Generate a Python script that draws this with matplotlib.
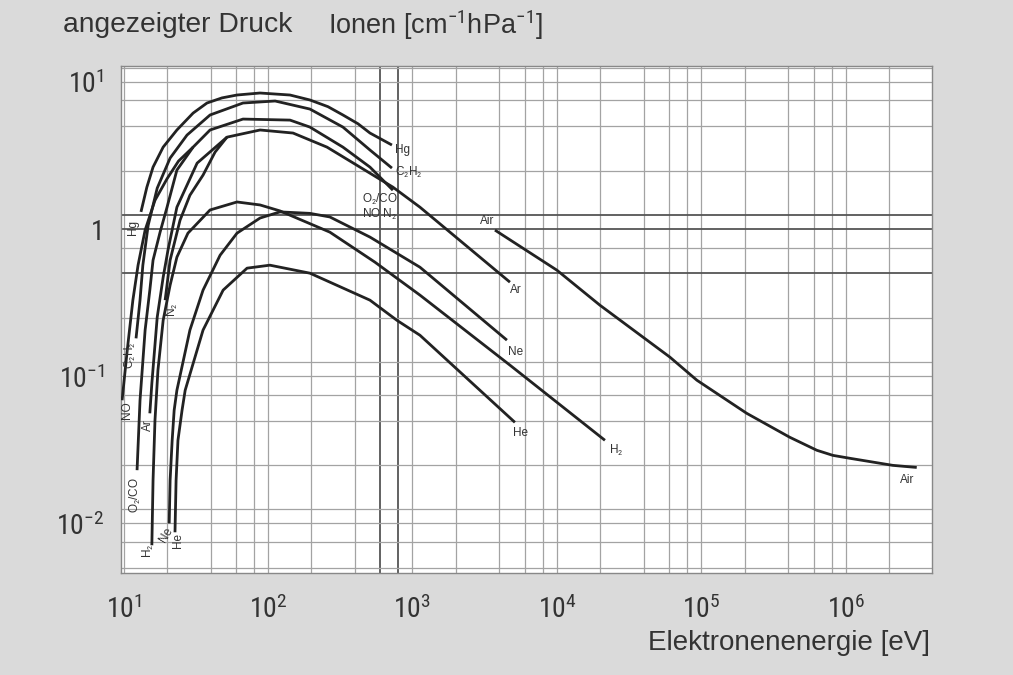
import matplotlib
matplotlib.use("Agg")
import matplotlib.pyplot as plt
from matplotlib import font_manager

# ---------------- data (electron energy [eV], ions [cm^-1 hPa^-1]) ----------------
hg_e = [13.2, 14.5, 16.0, 18.8, 23.4, 30.3, 37.8, 48.0, 61, 88, 142, 195, 260, 330, 420, 508, 721]
hg_s = [1.31, 1.93, 2.64, 3.61, 4.72, 6.15, 7.2, 7.8, 8.16, 8.42, 8.16, 7.55, 6.8, 5.97, 5.2, 4.50, 3.73]

c2h2_e = [12.2, 13.0, 13.6, 14.8, 17.1, 21.0, 27.5, 39.7, 67.1, 112, 195, 330, 508, 721]
c2h2_s = [0.181, 0.329, 0.569, 1.06, 1.90, 3.04, 4.36, 5.97, 7.2, 7.43, 6.55, 4.94, 3.45, 2.60]

o2co_e = [12.4, 13.0, 14.1, 15.2, 16.0, 17.9, 20.0, 23.4, 30.3, 39.7, 67.1, 142, 195, 330, 508, 732]
o2co_s = [0.023, 0.0687, 0.206, 0.385, 0.615, 0.954, 1.41, 2.52, 3.61, 4.72, 5.6, 5.51, 4.94, 3.61, 2.64, 1.84]

no_e = [9.77, 10.6, 11.6, 12.6, 14.1, 16.5, 20.0, 24.0, 30.3]
no_s = [0.0687, 0.150, 0.329, 0.569, 0.985, 1.57, 2.2, 2.9, 3.61]

ar_e = [15.2, 15.7, 17.1, 18.8, 20.3, 23.4, 32.3, 52, 88.1, 149, 256, 433, 732, 1127, 4730]
ar_s = [0.056, 0.0896, 0.252, 0.471, 0.72, 1.41, 2.81, 4.22, 4.72, 4.50, 3.61, 2.64, 1.93, 1.41, 0.436]

n2_e = [19.4, 21.0, 24.6, 28.8, 35.5, 43.0, 52.0]
n2_s = [0.329, 0.615, 1.15, 1.70, 2.33, 3.34, 4.22]

h2_e = [15.7, 16.0, 16.5, 17.3, 18.8, 21.0, 23.4, 27.9, 39.7, 61, 88.1, 121, 268, 549, 1127, 4730, 21500]
h2_s = [0.0071, 0.0196, 0.0502, 0.110, 0.240, 0.416, 0.645, 0.939, 1.35, 1.53, 1.46, 1.33, 0.954, 0.597, 0.356, 0.119, 0.0367]

ne_e = [20.7, 21.0, 21.7, 22.4, 23.4, 28.8, 35.5, 46.6, 61, 88.1, 121, 195, 268, 508, 1127, 4508]
ne_s = [0.01, 0.0196, 0.0367, 0.0587, 0.0803, 0.206, 0.385, 0.665, 0.939, 1.19, 1.31, 1.28, 1.21, 0.883, 0.551, 0.176]

he_e = [22.7, 23.1, 23.8, 25.4, 26.7, 35.5, 48.9, 71.6, 103, 195, 508, 781, 1127, 5120]
he_s = [0.0087, 0.0196, 0.0367, 0.0587, 0.0803, 0.206, 0.385, 0.543, 0.569, 0.502, 0.329, 0.240, 0.190, 0.0486]

air_e = [3724, 10000, 19860, 60500, 93100, 206000, 409000, 630000, 813000, 1066000, 2113000, 3097000]
air_s = [0.985, 0.526, 0.304, 0.135, 0.094, 0.056, 0.0385, 0.0314, 0.029, 0.0277, 0.0248, 0.024]

series = [(hg_e, hg_s), (c2h2_e, c2h2_s), (o2co_e, o2co_s), (no_e, no_s), (ar_e, ar_s),
          (n2_e, n2_s), (h2_e, h2_s), (ne_e, ne_s), (he_e, he_s), (air_e, air_s)]

# curve labels: (text, energy, value, rotation)
end_labels = [("Hg", 757, 3.45, 0), ("C$_2$H$_2$", 757, 2.44, 0), ("O$_2$/CO", 448, 1.60, 0),
              ("NO N$_2$", 448, 1.26, 0), ("Air", 2930, 1.13, 0), ("Ar", 4730, 0.385, 0),
              ("Ne", 4600, 0.146, 0), ("He", 5000, 0.041, 0), ("H$_2$", 22900, 0.0314, 0),
              ("Air", 2.37e6, 0.0196, 0)]
start_labels = [("Hg", 11.6, 1.02, 90), ("C$_2$H$_2$", 11.1, 0.139, 90), ("NO", 10.6, 0.0587, 90),
                ("Ar", 14.8, 0.0464, 90), ("O$_2$/CO", 12.0, 0.0155, 90), ("N$_2$", 21.7, 0.281, 90),
                ("H$_2$", 14.8, 0.00655, 90), ("Ne", 19.7, 0.0083, 60), ("He", 23.8, 0.0077, 90)]

x_ticks = [1e1, 1e2, 1e3, 1e4, 1e5, 1e6]
x_ticklabels = ["$10^{1}$", "$10^{2}$", "$10^{3}$", "$10^{4}$", "$10^{5}$", "$10^{6}$"]
y_ticks = [1e-2, 1e-1, 1, 1e1]
y_ticklabels = ["$10^{-2}$", "$10^{-1}$", "1", "$10^{1}$"]

# ---------------- fonts ----------------
ttf = font_manager.fontManager.ttflist
avail = {f.name for f in ttf}
narrow = None
stretch = "normal"
for nm in ("Liberation Sans Narrow", "Roboto Condensed", "Open Sans Condensed", "Noto Sans Condensed"):
    if nm in avail:
        narrow = nm
        break
if narrow is None:
    for f in ttf:
        if f.name in ("Roboto", "Noto Sans", "Open Sans", "Inter") and f.stretch in ("condensed", "semi-condensed", 75, 87.5) \
                and f.style == "normal" and f.weight in (400, "normal", "regular"):
            narrow = f.name
            stretch = "condensed"
            break
if narrow is None:
    narrow = "Liberation Sans"
plt.rcParams["font.family"] = [narrow, "DejaVu Sans"]
plt.rcParams["font.stretch"] = stretch
plt.rcParams["mathtext.fontset"] = "custom"
plt.rcParams["mathtext.rm"] = narrow
plt.rcParams["mathtext.it"] = narrow
plt.rcParams["mathtext.bf"] = narrow

BG = "#dadada"
TXT = "#333333"
fig = plt.figure(figsize=(10.13, 6.75), dpi=100, facecolor=BG)
ax = fig.add_axes([121 / 1013, 1 - 573 / 675, (932 - 121) / 1013, (573 - 66) / 675])
ax.set_facecolor("white")
ax.set_xscale("log")
ax.set_yscale("log")
ax.set_xlim(9.6, 3.95e6)
ax.set_ylim(0.0046, 12.85)

# grid
gcol = "#a3a3a3"
for k in range(1, 7):
    for m in (1, 2, 4, 6, 8):
        v = m * 10 ** k
        dark = v in (600, 800)
        ax.axvline(v, color="#555555" if dark else gcol, lw=1.3 if dark else 0.9, zorder=1)
for k in range(-3, 2):
    for m in (1, 1.25, 2.5, 5, 7.5):
        v = m * 10.0 ** k
        dark = abs(v - 1.25) < 1e-9 or abs(v - 1) < 1e-9 or abs(v - 0.5) < 1e-9
        ax.axhline(v, color="#555555" if dark else gcol, lw=1.3 if dark else 0.9, zorder=1)

for e, s in series:
    ax.plot(e, s, color="#222222", lw=2.0, solid_capstyle="butt", solid_joinstyle="round", zorder=3)

lab_family = ["Liberation Sans", "DejaVu Sans"]
for t, x, y, r in end_labels:
    ax.text(x, y, t, fontsize=8.5, color=TXT, ha="left", va="center", rotation=r, zorder=4,
            family=lab_family, stretch="normal")
for t, x, y, r in start_labels:
    ax.text(x, y, t, fontsize=8.5, color=TXT, ha="center", va="center", rotation=r, zorder=4,
            family=lab_family, stretch="normal")

ax.set_xticks(x_ticks)
ax.set_xticklabels(x_ticklabels)
ax.set_yticks(y_ticks)
ax.set_yticklabels(y_ticklabels)
ax.minorticks_off()
ax.tick_params(length=0, labelsize=20, colors=TXT)
ax.tick_params(axis="x", pad=16)
ax.tick_params(axis="y", pad=12)
for sp in ax.spines.values():
    sp.set_color("#888888")
    sp.set_linewidth(1.0)

fig.text(930 / 1013, 1 - 643 / 675, "Elektronenenergie [eV]", ha="right", va="center",
         fontsize=20, color=TXT, family=lab_family, stretch="normal")
fig.text(63 / 1013, 1 - 25 / 675, "angezeigter Druck", ha="left", va="center",
         fontsize=20.3, color=TXT, family=lab_family, stretch="normal")
fig.text(328 / 1013, 1 - 25 / 675, "Ionen [cm$^{-1}$hPa$^{-1}$]", ha="left", va="center",
         fontsize=19.5, color=TXT, family=lab_family, stretch="normal")

fig.savefig("out.png", dpi=100, facecolor=BG)
